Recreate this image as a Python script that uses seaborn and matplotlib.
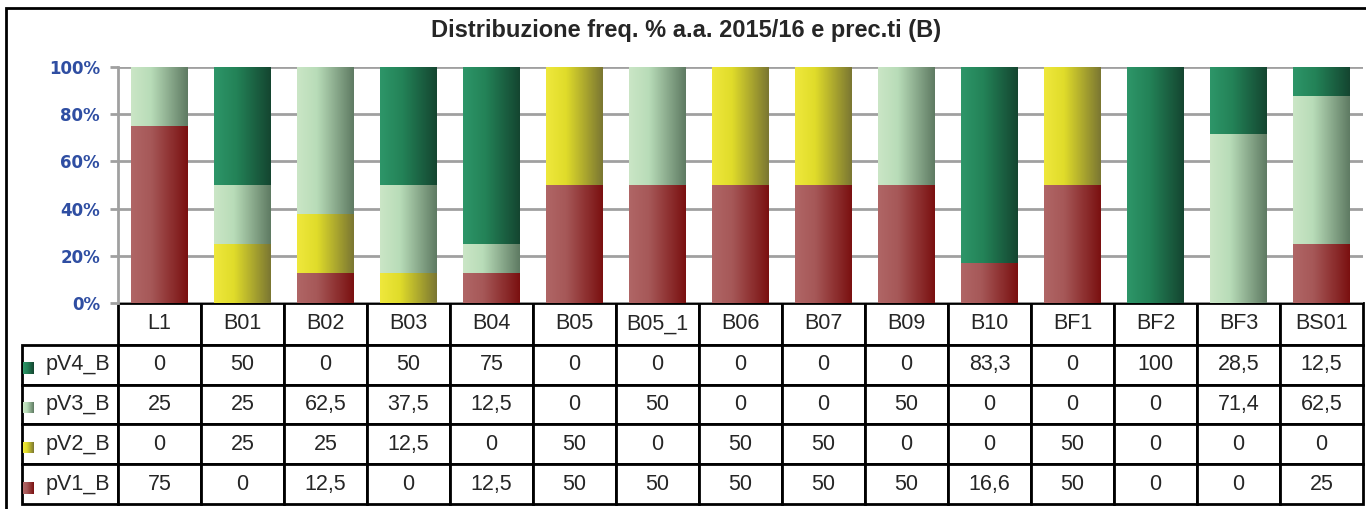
import numpy as np
import seaborn as sns
import matplotlib.pyplot as plt
from matplotlib.colors import LinearSegmentedColormap
from matplotlib.patches import Rectangle

categories = ["L1", "B01", "B02", "B03", "B04", "B05", "B05_1", "B06",
              "B07", "B09", "B10", "BF1", "BF2", "BF3", "BS01"]
pv4_b = [0, 50, 0, 50, 75, 0, 0, 0, 0, 0, 83.3, 0, 100, 28.5, 12.5]
pv3_b = [25, 25, 62.5, 37.5, 12.5, 0, 50, 0, 0, 50, 0, 0, 0, 71.4, 62.5]
pv2_b = [0, 25, 25, 12.5, 0, 50, 0, 50, 50, 0, 0, 50, 0, 0, 0]
pv1_b = [75, 0, 12.5, 0, 12.5, 50, 50, 50, 50, 50, 16.6, 50, 0, 0, 25]
series_names = ["pV4_B", "pV3_B", "pV2_B", "pV1_B"]
y_ticks = [0, 20, 40, 60, 80, 100]
title = "Distribuzione freq. % a.a. 2015/16 e prec.ti (B)"

# gradient stops (left -> right) for each series
grad_colors = {
    "pV4_B": [(0.0, "#2e9669"), (0.4, "#238257"), (1.0, "#144530")],
    "pV3_B": [(0.0, "#cbe6c6"), (0.35, "#b8dcb8"), (1.0, "#5e7a62")],
    "pV2_B": [(0.0, "#efe83c"), (0.35, "#e0dc2a"), (1.0, "#7a7632")],
    "pV1_B": [(0.0, "#b06666"), (0.35, "#a65858"), (1.0, "#7a1010")],
}

sns.set_style("white")
plt.rcParams["font.family"] = ["Liberation Sans", "DejaVu Sans"]

W, H = 1366, 509
fig = plt.figure(figsize=(W / 100, H / 100), dpi=100)

# outer frame
fig.patches.append(Rectangle((6 / W, -0.1), 1.1, 1 - 8 / H + 0.1,
                             transform=fig.transFigure, fill=False,
                             edgecolor="black", linewidth=2))
fig.text(686 / W, 1 - 31 / H, title, ha="center", va="center",
         fontsize=17, fontweight="bold")

AX_W, AX_H = 1245, 236
ax = fig.add_axes([118 / W, 1 - 303 / H, AX_W / W, AX_H / H])

series = {"pV4_B": pv4_b, "pV3_B": pv3_b, "pV2_B": pv2_b, "pV1_B": pv1_b}
totals = np.sum([series[s] for s in series_names], axis=0)
pct = {s: np.array(series[s]) / totals * 100 for s in series_names}

# cumulative heights, bottom series first
order = ["pV1_B", "pV2_B", "pV3_B", "pV4_B"]
cum = {}
run = np.zeros(len(categories))
for s in order:
    run = run + pct[s]
    cum[s] = run.copy()

grad = np.linspace(0, 1, 256).reshape(1, -1)
for k, s in enumerate(series_names):  # tallest stack first, overlaid downward
    n0 = len(ax.patches)
    sns.barplot(x=categories, y=cum[s], color=grad_colors[s][0][1],
                width=0.675, errorbar=None, ax=ax, zorder=2 + k)
    cmap = LinearSegmentedColormap.from_list(s, grad_colors[s])
    for p in ax.patches[n0:]:
        h = p.get_height()
        p.set_facecolor("none")
        p.set_edgecolor("none")
        if h <= 0:
            continue
        ax.imshow(grad, extent=[p.get_x(), p.get_x() + p.get_width(), 0, h],
                  aspect="auto", cmap=cmap, zorder=2 + k, interpolation="bilinear")

ax.set_xlim(-0.5, len(categories) - 0.5)
ax.set_ylim(0, 100)
ax.set_yticks(y_ticks)
ax.set_yticklabels([f"{t}%" for t in y_ticks], fontfamily="DejaVu Sans",
                   fontweight="bold", fontsize=12, color="#2f4ea2")
for lbl in ax.get_yticklabels():
    lbl.set_verticalalignment("center_baseline")
ax.set_xticks([])
ax.set_axisbelow(True)
ax.yaxis.grid(True, color="#a0a0a0", linewidth=2)
ax.tick_params(axis="y", length=6, width=2, color="#a0a0a0", pad=7, left=True)
for side in ["top", "right", "bottom"]:
    ax.spines[side].set_visible(False)
ax.spines["left"].set_color("#a0a0a0")
ax.spines["left"].set_linewidth(2)


def fmt(v):
    return f"{v:g}".replace(".", ",")


cell_text = [[fmt(v) for v in series[s]] for s in series_names]
bottom = (303 - 504) / AX_H
# bbox covers the data grid only; the row label column hangs to its left
tbl = ax.table(cellText=cell_text, rowLabels=series_names, colLabels=categories,
               cellLoc="center", rowLoc="left",
               bbox=[0, bottom, 1, -bottom])
tbl.auto_set_font_size(False)
tbl.set_fontsize(15.5)
label_w = 108
for (r, c), cell in tbl.get_celld().items():
    cell.set_width((label_w if c == -1 else 83) / AX_W)
    cell.set_height((42 if r == 0 else 40) / AX_H)
    cell.set_linewidth(2)
    cell.set_edgecolor("black")
    if c == -1:
        cell.PAD = 26 / label_w

# legend keys in the row-label cells
for i, s in enumerate(series_names):
    yc = 364.5 + i * 40 + 3
    kax = fig.add_axes([23 / W, 1 - (yc + 6) / H, 11 / W, 12 / H])
    kax.imshow(grad, aspect="auto", cmap=LinearSegmentedColormap.from_list(s, grad_colors[s]))
    kax.axis("off")

fig.savefig("out.png", dpi=100)
